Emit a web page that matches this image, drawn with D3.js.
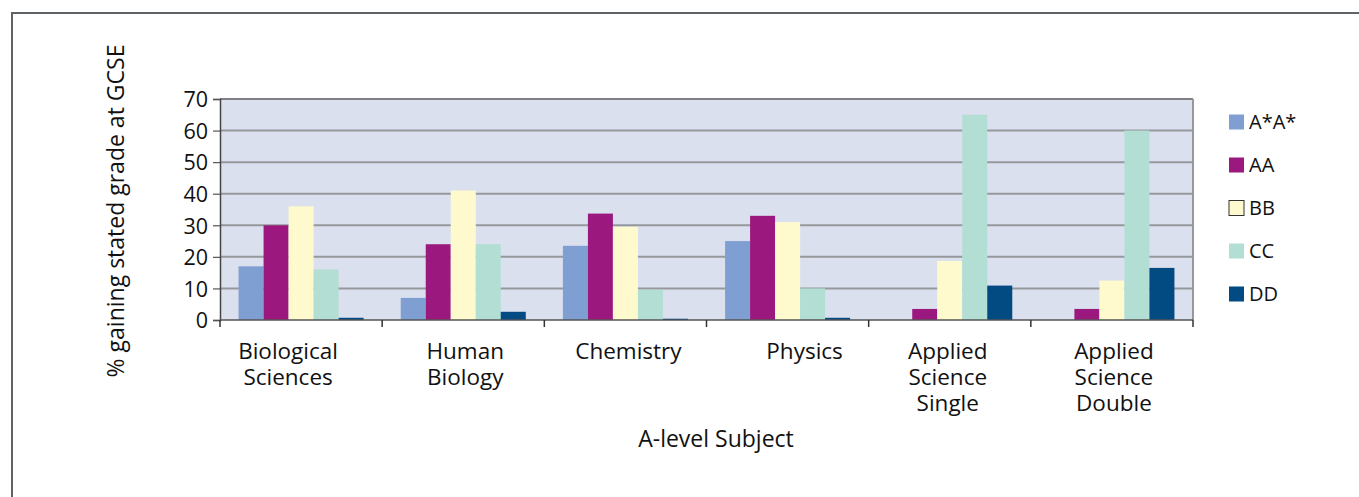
<!DOCTYPE html>
<html>
<head>
<meta charset="utf-8">
<script src="https://cdn.jsdelivr.net/npm/d3@7"></script>
<style>
  html, body { margin: 0; padding: 0; background: #fff; }
  svg { display: block; font-family: "Open Sans", "Noto Sans", sans-serif; }
</style>
</head>
<body>
<svg id="chart" width="1359" height="497"></svg>
<script>
// ---- data ----
const categories = ["Biological Sciences", "Human Biology", "Chemistry", "Physics", "Applied Science Single", "Applied Science Double"];
const categoryLines = [["Biological", "Sciences"], ["Human", "Biology"], ["Chemistry"], ["Physics"], ["Applied", "Science", "Single"], ["Applied", "Science", "Double"]];
const seriesNames = ["A*A*", "AA", "BB", "CC", "DD"];
const valuesAstarAstar = [17, 7, 23.5, 25, 0, 0];
const valuesAA = [30, 24, 33.7, 33, 3.5, 3.5];
const valuesBB = [36, 41, 29.5, 31, 18.7, 12.5];
const valuesCC = [16, 24, 9.6, 10, 65, 60];
const valuesDD = [0.7, 2.6, 0.4, 0.7, 10.9, 16.5];
const yTicks = [0, 10, 20, 30, 40, 50, 60, 70];
const yLabel = "% gaining stated grade at GCSE";
const xLabel = "A-level Subject";

const seriesValues = [valuesAstarAstar, valuesAA, valuesBB, valuesCC, valuesDD];
const colors = ["#7f9fd3", "#9b187e", "#fffacd", "#b2ded4", "#014a82"];

// ---- layout ----
const svg = d3.select("#chart");
const plot = { left: 220, right: 1193, top: 99, bottom: 320 };

const x0 = d3.scaleBand().domain(categories).range([plot.left, plot.right])
  .paddingInner(0.229).paddingOuter(0.1145);
const x1 = d3.scaleBand().domain(seriesNames).range([0, x0.bandwidth()]).padding(0);
const y = d3.scaleLinear().domain([0, 70]).range([plot.bottom, plot.top]);

// outer frame
svg.append("path")
  .attr("d", "M12,497 L12,13 L1359,13")
  .attr("fill", "none").attr("stroke", "#5f6366").attr("stroke-width", 2);

// plot background
svg.append("rect")
  .attr("x", plot.left).attr("y", plot.top)
  .attr("width", plot.right - plot.left).attr("height", plot.bottom - plot.top)
  .attr("fill", "#dae0ee");

// gridlines
svg.append("g").selectAll("line").data(yTicks.filter(d => d > 0)).join("line")
  .attr("x1", plot.left).attr("x2", plot.right)
  .attr("y1", d => y(d)).attr("y2", d => y(d))
  .attr("stroke", d => d === 70 ? "#7d7f82" : "#96989c").attr("stroke-width", 2);

// right border
svg.append("line")
  .attr("x1", plot.right).attr("x2", plot.right).attr("y1", plot.top).attr("y2", plot.bottom)
  .attr("stroke", "#96989c").attr("stroke-width", 2);

// bars
const groups = svg.append("g").selectAll("g").data(categories).join("g")
  .attr("transform", d => `translate(${x0(d)},0)`);
groups.selectAll("rect")
  .data((c, ci) => seriesNames.map((s, si) => ({ s, si, v: seriesValues[si][ci] })))
  .join("rect")
  .attr("x", d => x1(d.s))
  .attr("width", x1.bandwidth())
  .attr("y", d => y(d.v))
  .attr("height", d => y(0) - y(d.v))
  .attr("fill", d => colors[d.si]);

// y axis
const yAxis = d3.axisLeft(y).tickValues(yTicks).tickSize(7).tickPadding(5);
const gy = svg.append("g").attr("transform", `translate(${plot.left},0)`).call(yAxis);
gy.select(".domain").attr("stroke", "#444").attr("stroke-width", 1.5);
gy.selectAll(".tick line").attr("stroke", "#555").attr("stroke-width", 1.2);
gy.selectAll(".tick text").attr("font-size", 21.5).attr("fill", "#111")
  .attr("font-family", "'Open Sans', sans-serif").attr("dy", "0.36em");

// x axis line and ticks at category boundaries
svg.append("line")
  .attr("x1", plot.left).attr("x2", plot.right).attr("y1", plot.bottom).attr("y2", plot.bottom)
  .attr("stroke", "#555").attr("stroke-width", 1.5);
const step = x0.step();
const boundaries = d3.range(categories.length + 1).map(i => plot.left + i * step);
svg.append("g").selectAll("line").data(boundaries).join("line")
  .attr("x1", d => d).attr("x2", d => d)
  .attr("y1", plot.bottom).attr("y2", plot.bottom + 7)
  .attr("stroke", "#333").attr("stroke-width", 1.5);

// category labels
const labelNudge = [-13, 2, 3, 17, -2, 2];
svg.append("g").selectAll("text").data(categories).join("text")
  .attr("x", (d, i) => x0(d) + x0.bandwidth() / 2 + labelNudge[i])
  .attr("y", 359)
  .attr("text-anchor", "middle")
  .attr("font-size", 22.5).attr("fill", "#111")
  .each(function (d, i) {
    const t = d3.select(this);
    categoryLines[i].forEach((line, li) => {
      t.append("tspan").attr("x", t.attr("x")).attr("dy", li === 0 ? 0 : 26).text(line);
    });
  });

// axis titles
svg.append("text")
  .attr("x", 716).attr("y", 447)
  .attr("text-anchor", "middle").attr("font-size", 23).attr("fill", "#111")
  .text(xLabel);

svg.append("text")
  .attr("transform", "translate(124,211) rotate(-90)")
  .attr("text-anchor", "middle").attr("font-size", 23).attr("fill", "#111")
  .text(yLabel);

// legend
const legend = svg.append("g").selectAll("g").data(seriesNames).join("g")
  .attr("transform", (d, i) => `translate(1229,${122 + i * 43})`);
legend.append("rect")
  .attr("x", 0).attr("y", -7.5).attr("width", 15).attr("height", 15)
  .attr("fill", (d, i) => colors[i])
  .attr("stroke", (d, i) => i === 2 ? "#333" : "none").attr("stroke-width", 1);
legend.append("text")
  .attr("x", 20).attr("y", 0).attr("dy", "0.36em")
  .attr("font-size", 20).attr("fill", "#111")
  .text(d => d);
</script>
</body>
</html>
